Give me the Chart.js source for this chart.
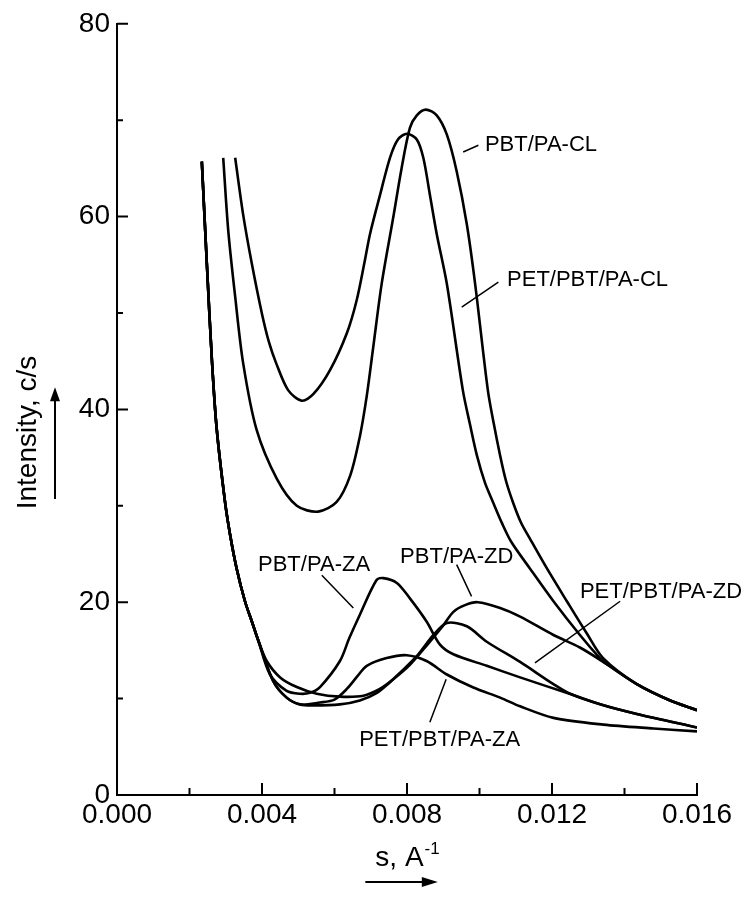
<!DOCTYPE html>
<html lang="en">
<head>
  <meta charset="UTF-8">
  <title>Intensity vs s</title>
  <script src="https://cdn.jsdelivr.net/npm/chart.js"></script>
  <style>
    html, body { margin: 0; padding: 0; background: #fff; }
    #wrap { width: 750px; height: 910px; }
  </style>
</head>
<body>
<div id="wrap"><canvas id="myChart" width="750" height="910"></canvas></div>

<script>
  // values (s in 1/A, intensity in c/s)
  const pbtClS = [0.00293, 0.00307, 0.00326, 0.00348, 0.00385, 0.00441, 0.00496, 0.00555, 0.00606, 0.00643, 0.00670, 0.00689, 0.00707, 0.00730, 0.00762, 0.00785, 0.00808, 0.00827, 0.00852, 0.00882, 0.00910, 0.00937, 0.00965, 0.00988, 0.01023, 0.01040, 0.01057, 0.01073, 0.01092, 0.01114, 0.01139, 0.01186, 0.01241, 0.01297, 0.01341, 0.01434, 0.01526, 0.01600];
  const pbtClI = [66.1, 58.5, 51.7, 44.8, 37.9, 32.8, 30.0, 29.4, 30.4, 33.1, 37.2, 41.4, 46.5, 53.0, 59.9, 65.0, 69.2, 70.5, 71.1, 70.5, 68.5, 64.7, 59.2, 53.0, 42.0, 38.4, 35.2, 32.6, 30.4, 28.3, 26.6, 23.5, 20.1, 16.7, 14.2, 11.5, 9.8, 8.8];

  const petClS = [0.00326, 0.00348, 0.00372, 0.00400, 0.00419, 0.00439, 0.00472, 0.00510, 0.00542, 0.00588, 0.00634, 0.00661, 0.00684, 0.00698, 0.00726, 0.00753, 0.00775, 0.00800, 0.00827, 0.00845, 0.00863, 0.00882, 0.00910, 0.00954, 0.00974, 0.00993, 0.01015, 0.01037, 0.01062, 0.01087, 0.01139, 0.01204, 0.01277, 0.01332, 0.01350, 0.01434, 0.01526, 0.01600];
  const petClI = [66.1, 60.2, 55.1, 49.9, 47.0, 44.8, 42.0, 40.9, 41.6, 44.1, 47.9, 51.3, 55.5, 58.2, 62.3, 66.1, 68.0, 68.6, 68.0, 66.1, 62.3, 58.2, 53.0, 42.0, 38.4, 35.2, 32.4, 30.4, 28.2, 26.3, 23.5, 20.1, 16.6, 14.2, 13.6, 11.5, 9.8, 8.8];

  const pbtZdS = [0.00234, 0.00248, 0.00262, 0.00275, 0.00298, 0.00312, 0.00330, 0.00353, 0.00372, 0.00390, 0.00413, 0.00450, 0.00496, 0.00551, 0.00615, 0.00680, 0.00725, 0.00762, 0.00808, 0.00854, 0.00900, 0.00928, 0.00960, 0.00995, 0.01057, 0.01112, 0.01204, 0.01277, 0.01350, 0.01434, 0.01526, 0.01600];
  const pbtZdI = [65.7, 55.0, 45.0, 38.0, 30.4, 27.0, 23.5, 20.1, 18.0, 16.0, 13.9, 12.2, 11.2, 10.5, 10.2, 10.3, 11.0, 12.0, 13.5, 15.5, 17.6, 19.0, 19.7, 20.0, 19.4, 18.5, 16.6, 15.3, 13.6, 11.5, 9.8, 8.8];

  const petZdS = [0.00234, 0.00248, 0.00262, 0.00275, 0.00298, 0.00312, 0.00330, 0.00353, 0.00372, 0.00390, 0.00431, 0.00468, 0.00505, 0.00542, 0.00615, 0.00670, 0.00717, 0.00750, 0.00781, 0.00827, 0.00873, 0.00910, 0.00965, 0.01020, 0.01112, 0.01204, 0.01250, 0.01342, 0.01434, 0.01600];
  const petZdI = [65.7, 55.0, 45.0, 38.0, 30.4, 27.0, 23.5, 20.1, 18.0, 16.0, 11.8, 10.1, 9.4, 9.3, 9.4, 9.8, 10.6, 11.6, 12.7, 14.4, 16.6, 17.85, 17.5, 15.9, 13.8, 11.5, 10.5, 9.3, 8.4, 7.0];

  const pbtZaS = [0.00234, 0.00248, 0.00262, 0.00275, 0.00298, 0.00312, 0.00330, 0.00353, 0.00372, 0.00390, 0.00422, 0.00468, 0.00505, 0.00532, 0.00560, 0.00615, 0.00640, 0.00670, 0.00716, 0.00735, 0.00772, 0.00808, 0.00854, 0.00891, 0.00928, 0.01020, 0.01112, 0.01240, 0.01342, 0.01434, 0.01600];
  const pbtZaI = [65.7, 55.0, 45.0, 38.0, 30.4, 27.0, 23.5, 20.1, 18.0, 16.0, 12.5, 10.8, 10.5, 10.6, 11.2, 13.9, 16.2, 18.7, 22.3, 22.5, 22.0, 20.4, 18.0, 15.6, 14.6, 13.4, 12.2, 10.6, 9.3, 8.4, 7.0];

  const petZaS = [0.00234, 0.00248, 0.00262, 0.00275, 0.00298, 0.00312, 0.00330, 0.00353, 0.00372, 0.00390, 0.00431, 0.00468, 0.00505, 0.00560, 0.00600, 0.00634, 0.00665, 0.00689, 0.00744, 0.00799, 0.00854, 0.00910, 0.00983, 0.01057, 0.01112, 0.01204, 0.01342, 0.01480, 0.01600];
  const petZaI = [65.7, 55.0, 45.0, 38.0, 30.4, 27.0, 23.5, 20.1, 18.0, 16.0, 11.8, 10.1, 9.4, 9.6, 9.9, 11.0, 12.4, 13.4, 14.2, 14.5, 13.9, 12.5, 11.15, 10.1, 9.2, 8.0, 7.3, 6.9, 6.6];

  // axis ticks
  const xMajor = [0, 0.004, 0.008, 0.012, 0.016];
  const xMinor = [0.002, 0.006, 0.010, 0.014];
  const yMajor = [0, 20, 40, 60, 80];
  const yMinor = [10, 30, 50, 70];

  // curve labels: text, left edge s, middle intensity
  const labelText = ['PBT/PA-CL', 'PET/PBT/PA-CL', 'PBT/PA-ZA', 'PBT/PA-ZD', 'PET/PBT/PA-ZD', 'PET/PBT/PA-ZA'];
  const labelS = [0.01015, 0.01076, 0.00389, 0.00781, 0.01277, 0.00668];
  const labelI = [67.4, 53.4, 23.9, 24.7, 21.1, 5.7];
  // leader lines: s1, i1, s2, i2
  const leaderS1 = [0.00955, 0.00951, 0.00565, 0.00937, 0.01388, 0.00908];
  const leaderI1 = [66.7, 50.6, 22.8, 23.9, 20.1, 12.0];
  const leaderS2 = [0.00997, 0.01052, 0.00652, 0.00978, 0.01153, 0.00863];
  const leaderI2 = [67.4, 53.2, 19.4, 20.6, 13.7, 7.55];

  const FONT = '"Liberation Sans", Arial, Helvetica, sans-serif';

  function pts(xs, ys) {
    return xs.map((x, i) => ({x: x, y: ys[i]}));
  }

  function line(label, xs, ys) {
    return {
      label: label,
      data: pts(xs, ys),
      showLine: true,
      borderColor: '#000',
      borderWidth: 2.6,
      pointRadius: 0,
      fill: false,
      tension: 0.3
    };
  }

  const decor = {
    id: 'decor',
    afterDraw(chart) {
      const c = chart.ctx;
      const xs = chart.scales.x, ys = chart.scales.y;
      const area = chart.chartArea;
      c.save();
      c.strokeStyle = '#000';
      c.fillStyle = '#000';

      // inward ticks
      c.lineWidth = 2;
      c.beginPath();
      xMajor.forEach(v => { const p = xs.getPixelForValue(v); c.moveTo(p, area.bottom); c.lineTo(p, area.bottom - 12); });
      xMinor.forEach(v => { const p = xs.getPixelForValue(v); c.moveTo(p, area.bottom); c.lineTo(p, area.bottom - 7); });
      yMajor.forEach(v => { const p = ys.getPixelForValue(v); c.moveTo(area.left, p); c.lineTo(area.left + 11, p); });
      yMinor.forEach(v => { const p = ys.getPixelForValue(v); c.moveTo(area.left, p); c.lineTo(area.left + 6, p); });
      c.stroke();

      // curve labels
      c.font = '22px ' + FONT;
      c.textAlign = 'left';
      c.textBaseline = 'middle';
      labelText.forEach((t, i) => {
        c.fillText(t, xs.getPixelForValue(labelS[i]), ys.getPixelForValue(labelI[i]));
      });
      c.lineWidth = 1.5;
      c.beginPath();
      leaderS1.forEach((s, i) => {
        c.moveTo(xs.getPixelForValue(s), ys.getPixelForValue(leaderI1[i]));
        c.lineTo(xs.getPixelForValue(leaderS2[i]), ys.getPixelForValue(leaderI2[i]));
      });
      c.stroke();

      // y title with arrow
      c.save();
      c.translate(area.left - 89, ys.getPixelForValue(37.6));
      c.rotate(-Math.PI / 2);
      c.font = '28px ' + FONT;
      c.textAlign = 'center';
      c.textBaseline = 'middle';
      c.fillText('Intensity, c/s', 0, 0);
      c.restore();

      const ax = area.left - 62;
      c.lineWidth = 2;
      c.beginPath();
      c.moveTo(ax, ys.getPixelForValue(30.7));
      c.lineTo(ax, ys.getPixelForValue(41.0));
      c.stroke();
      const ah = ys.getPixelForValue(42.3);
      c.beginPath();
      c.moveTo(ax, ah);
      c.lineTo(ax - 5, ah + 14);
      c.lineTo(ax + 5, ah + 14);
      c.closePath();
      c.fill();

      // x title with superscript and arrow
      const cx = xs.getPixelForValue(0.0080);
      const by = area.bottom + 71;
      c.font = '28px ' + FONT;
      c.textBaseline = 'alphabetic';
      c.textAlign = 'left';
      const w1 = c.measureText('s, A').width;
      c.font = '17px ' + FONT;
      const w2 = c.measureText('-1').width;
      const x0 = cx - (w1 + w2) / 2;
      c.font = '28px ' + FONT;
      c.fillText('s, A', x0, by);
      c.font = '17px ' + FONT;
      c.fillText('-1', x0 + w1 + 1, by - 12);

      const ay = area.bottom + 87;
      const axL = xs.getPixelForValue(0.00685), axR = xs.getPixelForValue(0.00885);
      c.lineWidth = 2;
      c.beginPath();
      c.moveTo(axL, ay);
      c.lineTo(axR - 12, ay);
      c.stroke();
      c.beginPath();
      c.moveTo(axR, ay);
      c.lineTo(axR - 16, ay - 5);
      c.lineTo(axR - 16, ay + 5);
      c.closePath();
      c.fill();

      c.restore();
    }
  };

  const ctx = document.getElementById('myChart');

  new Chart(ctx, {
    type: 'scatter',
    data: {
      datasets: [
        line('PBT/PA-CL', pbtClS, pbtClI),
        line('PET/PBT/PA-CL', petClS, petClI),
        line('PBT/PA-ZD', pbtZdS, pbtZdI),
        line('PET/PBT/PA-ZD', petZdS, petZdI),
        line('PBT/PA-ZA', pbtZaS, pbtZaI),
        line('PET/PBT/PA-ZA', petZaS, petZaI)
      ]
    },
    options: {
      responsive: false,
      animation: false,
      events: [],
      layout: { padding: { top: 18, right: 53, left: 0, bottom: 0 } },
      plugins: {
        legend: { display: false },
        tooltip: { enabled: false }
      },
      scales: {
        x: {
          type: 'linear',
          min: 0,
          max: 0.016,
          afterBuildTicks: s => { s.ticks = xMajor.map(v => ({value: v})); },
          afterFit: s => { s.height = 115; },
          grid: { display: false, drawTicks: false },
          border: { display: true, color: '#000', width: 2 },
          ticks: {
            color: '#000',
            padding: 3,
            maxRotation: 0,
            autoSkip: false,
            font: { family: FONT, size: 28 },
            callback: v => Number(v).toFixed(3)
          }
        },
        y: {
          type: 'linear',
          min: 0,
          max: 80,
          afterBuildTicks: s => { s.ticks = yMajor.map(v => ({value: v})); },
          afterFit: s => { s.width = 117; },
          grid: { display: false, drawTicks: false },
          border: { display: true, color: '#000', width: 2 },
          ticks: {
            color: '#000',
            padding: 7,
            autoSkip: false,
            font: { family: FONT, size: 28 }
          }
        }
      }
    },
    plugins: [decor]
  });
</script>
</body>
</html>
